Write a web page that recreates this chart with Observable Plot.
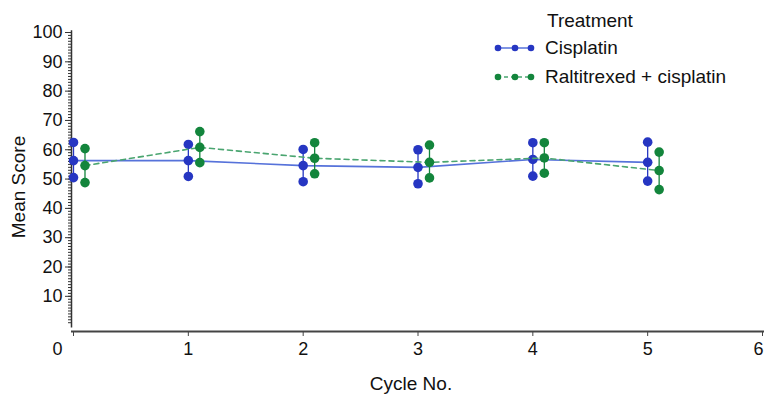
<!DOCTYPE html>
<html>
<head>
<meta charset="utf-8">
<script src="https://cdn.jsdelivr.net/npm/d3@7"></script>
<script src="https://cdn.jsdelivr.net/npm/@observablehq/plot@0.6"></script>
<style>
  html, body { margin: 0; padding: 0; background: #fff; }
  #wrap { position: relative; width: 764px; height: 396px; font-family: "Liberation Sans", Arial, Helvetica, sans-serif; }
  #legend { position: absolute; left: 490px; top: 8px; color: #111; font-size: 19px; }
  #legend .title { margin-left: 57px; line-height: 25px; }
  #legend .row { display: flex; align-items: center; height: 29px; }
  #legend .row span { margin-left: 10px; }
</style>
</head>
<body>
<div id="wrap"><div id="legend"></div></div>
<script>
// ---- data ----
const cycles = [0, 1, 2, 3, 4, 5];
const seriesNames = ["Cisplatin", "Raltitrexed + cisplatin"];
const cisMean  = [56.3, 56.3, 54.6, 54.0, 56.7, 55.7];
const cisUpper = [62.5, 61.8, 60.1, 60.0, 62.4, 62.6];
const cisLower = [50.5, 50.9, 49.1, 48.4, 51.0, 49.3];
const ralMean  = [54.6, 60.8, 57.1, 55.7, 57.2, 52.9];
const ralUpper = [60.4, 66.2, 62.4, 61.6, 62.4, 59.2];
const ralLower = [48.8, 55.6, 51.8, 50.4, 52.0, 46.4];
const xTicks = [0, 1, 2, 3, 4, 5, 6];
const yTicks = [10, 20, 30, 40, 50, 60, 70, 80, 90, 100];
const yMinor = d3.range(1, 101);
const xLabel = "Cycle No.";
const yLabel = "Mean Score";
const legendTitle = "Treatment";

const ralOffset = 0.1;
const colors = {
  cisDot: "#2636c2", cisLine: "#5672da",
  ralDot: "#13853c", ralLine: "#4aa570"
};

const cis = cycles.map((c, i) => ({x: c, mean: cisMean[i], lo: cisLower[i], hi: cisUpper[i]}));
const ral = cycles.map((c, i) => ({x: c + ralOffset, mean: ralMean[i], lo: ralLower[i], hi: ralUpper[i]}));

const xMin = -0.0175, xMax = 6;
const font = "'Liberation Sans', Arial, Helvetica, sans-serif";

function seriesMarks(data, dotColor, lineColor, dash) {
  return [
    Plot.line(data, {x: "x", y: "mean", stroke: lineColor, strokeWidth: 1.6, strokeDasharray: dash}),
    Plot.ruleX(data, {x: "x", y1: "lo", y2: "hi", stroke: dotColor, strokeWidth: 1.3}),
    Plot.dot(data, {x: "x", y: "hi", r: 4.8, fill: dotColor}),
    Plot.dot(data, {x: "x", y: "mean", r: 4.8, fill: dotColor}),
    Plot.dot(data, {x: "x", y: "lo", r: 4.8, fill: dotColor})
  ];
}

const noText = () => "";
const intFmt = d3.format("d");

const chart = Plot.plot({
  width: 764,
  height: 396,
  marginLeft: 71,
  marginRight: 2,
  marginTop: 32,
  marginBottom: 65,
  x: {domain: [xMin, xMax]},
  y: {domain: [-2, 100]},
  style: {fontFamily: font, fontSize: "18px", color: "#111", background: "white", overflow: "visible"},
  marks: [
    Plot.ruleX([xMin], {y1: -0.8, y2: 100.6, stroke: "#333", strokeWidth: 1.5}),
    Plot.ruleY([-2], {x1: xMin, x2: xMax + 0.0175, stroke: "#444", strokeWidth: 2}),
    Plot.axisY({ticks: yMinor, tickSize: 3, tickFormat: noText, label: null, stroke: "#333"}),
    Plot.axisY({ticks: yTicks, tickSize: 6, tickPadding: 3, tickFormat: intFmt, label: null, fontSize: 18, stroke: "#333"}),
    Plot.axisX({ticks: xTicks, tickSize: 5, tickFormat: noText, label: null, stroke: "#444"}),
    Plot.axisX({ticks: [0], tickSize: 0, tickPadding: 11, dx: -16, fontSize: 18, tickFormat: intFmt, label: null}),
    Plot.axisX({ticks: xTicks.slice(1, -1), tickSize: 0, tickPadding: 11, fontSize: 18, tickFormat: intFmt, label: null}),
    Plot.axisX({ticks: xTicks.slice(-1), tickSize: 0, tickPadding: 11, dx: -4, fontSize: 18, tickFormat: intFmt, label: null}),
    Plot.text([xLabel], {frameAnchor: "bottom", dy: 52, dx: -6, fontSize: 19, lineAnchor: "middle", textAnchor: "middle"}),
    Plot.text([yLabel], {frameAnchor: "left", rotate: -90, dx: -53, dy: 5, fontSize: 19, lineAnchor: "middle", textAnchor: "middle"}),
    ...seriesMarks(cis, colors.cisDot, colors.cisLine, null),
    ...seriesMarks(ral, colors.ralDot, colors.ralLine, "5,4")
  ]
});
document.getElementById("wrap").prepend(chart);

// ---- legend ----
const legend = d3.select("#legend");
legend.append("div").attr("class", "title").text(legendTitle);
const legendItems = [
  {name: seriesNames[0], dot: colors.cisDot, line: colors.cisLine, dash: null},
  {name: seriesNames[1], dot: colors.ralDot, line: colors.ralLine, dash: "4,3"}
];
for (const item of legendItems) {
  const row = legend.append("div").attr("class", "row");
  const svg = row.append("svg").attr("width", 45).attr("height", 12);
  svg.append("line").attr("x1", 7).attr("x2", 42).attr("y1", 6).attr("y2", 6)
    .attr("stroke", item.line).attr("stroke-width", 1.5).attr("stroke-dasharray", item.dash);
  for (const cx of [8, 25, 41]) svg.append("circle").attr("cx", cx).attr("cy", 6).attr("r", 3.3).attr("fill", item.dot);
  row.append("span").text(item.name);
}
</script>
</body>
</html>
